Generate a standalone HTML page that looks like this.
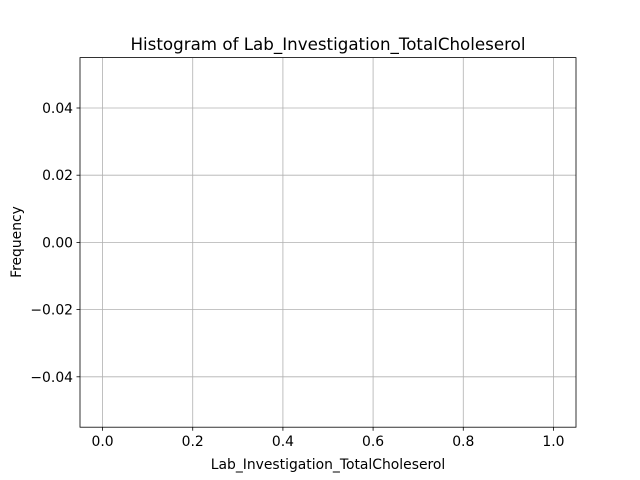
<!DOCTYPE html>
<html>
<head>
<meta charset="utf-8">
<style>
html,body{margin:0;padding:0;background:#fff;}
svg{display:block;font-family:"DejaVu Sans","Liberation Sans",sans-serif;}
</style>
</head>
<body>
<svg id="chart" width="640" height="480" viewBox="0 0 640 480">
  <rect x="0" y="0" width="640" height="480" fill="#fff"/>
  <text x="328" y="50" text-anchor="middle" font-size="16.7" fill="#000">Histogram of Lab_Investigation_TotalCholeserol</text>
  <g id="grid"></g>
  <g id="bars"></g>
  <rect x="80" y="57.6" width="496" height="369.6" fill="none" stroke="#000" stroke-width="0.8"/>
  <g id="xticks"></g>
  <g id="yticks"></g>
  <text x="328" y="469" text-anchor="middle" font-size="13.9" fill="#000">Lab_Investigation_TotalCholeserol</text>
  <text x="0" y="0" transform="translate(21,242) rotate(-90)" text-anchor="middle" font-size="13.9" fill="#000">Frequency</text>
</svg>
<script>
const binEdges = [];
const binCounts = [];
const xTickValues = [0.0, 0.2, 0.4, 0.6, 0.8, 1.0];
const xTickLabels = ["0.0", "0.2", "0.4", "0.6", "0.8", "1.0"];
const yTickValues = [0.04, 0.02, 0.00, -0.02, -0.04];
const yTickLabels = ["0.04", "0.02", "0.00", "\u22120.02", "\u22120.04"];

const NS = "http://www.w3.org/2000/svg";
const L = 80, R = 576, T = 57.6, B = 427.2;
const xMin = -0.05, xMax = 1.05, yMin = -0.055, yMax = 0.055;
function xs(v){ return L + (v - xMin) / (xMax - xMin) * (R - L); }
function ys(v){ return B - (v - yMin) / (yMax - yMin) * (B - T); }
function mk(tag, attrs, parent){
  const e = document.createElementNS(NS, tag);
  for (const k in attrs) e.setAttribute(k, attrs[k]);
  parent.appendChild(e);
  return e;
}
const grid = document.getElementById("grid");
const xt = document.getElementById("xticks");
const yt = document.getElementById("yticks");
const bars = document.getElementById("bars");

xTickValues.forEach((v, i) => {
  const x = xs(v);
  const g = mk("line", {x1:x, x2:x, y1:T, y2:B, stroke:"#b0b0b0", "stroke-width":0.8}, grid);
  
  
  const t = mk("line", {x1:x, x2:x, y1:B, y2:B+3.5, stroke:"#000", "stroke-width":0.8}, xt);
  
  
  const lb = mk("text", {x:x, y:B+19, "text-anchor":"middle", "font-size":13.9, fill:"#000"}, xt);
  lb.textContent = xTickLabels[i];
  
  
});
yTickValues.forEach((v, i) => {
  const y = ys(v);
  const g = mk("line", {x1:L, x2:R, y1:y, y2:y, stroke:"#b0b0b0", "stroke-width":0.8}, grid);
  
  
  const t = mk("line", {x1:L-3.5, x2:L, y1:y, y2:y, stroke:"#000", "stroke-width":0.8}, yt);
  
  
  const lb = mk("text", {x:L-7, y:y+5, "text-anchor":"end", "font-size":13.9, fill:"#000"}, yt);
  lb.textContent = yTickLabels[i];
  
  
});
binCounts.forEach((c, i) => {
  const x0 = xs(binEdges[i]), x1 = xs(binEdges[i+1]);
  const r = mk("rect", {x:x0, y:ys(c), width:x1-x0, height:ys(0)-ys(c), fill:"#1f77b4"}, bars);
  
  
});
</script>
</body>
</html>
